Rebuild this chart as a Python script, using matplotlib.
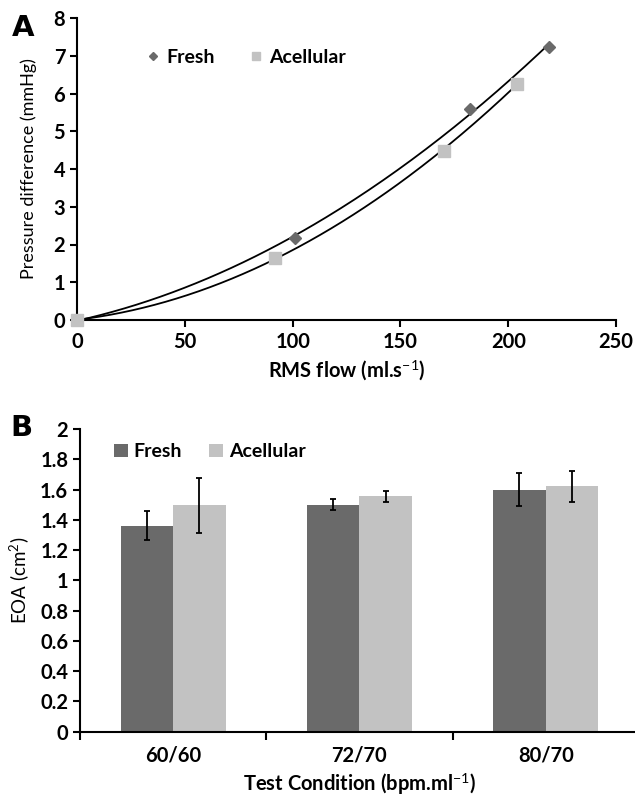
import numpy as np
import matplotlib.pyplot as plt

plt.rcParams['font.family'] = ['Lato', 'DejaVu Sans']
plt.rcParams['mathtext.fontset'] = 'custom'
plt.rcParams['mathtext.rm'] = 'Lato'
plt.rcParams['mathtext.bf'] = 'Lato:bold'

# panel A: pressure difference vs RMS flow
fresh_flow = np.array([0, 101, 182, 219])
fresh_dp = np.array([0, 2.16, 5.58, 7.24])
acell_flow = np.array([0, 92, 170, 204])
acell_dp = np.array([0, 1.64, 4.49, 6.26])

# panel B: EOA per test condition
conditions = ["60/60", "72/70", "80/70"]
fresh_eoa = np.array([1.36, 1.50, 1.60])
fresh_err = np.array([0.096, 0.037, 0.11])
acell_eoa = np.array([1.495, 1.555, 1.62])
acell_err = np.array([0.18, 0.036, 0.10])

dark = "#6a6a6a"
light = "#c2c2c2"

fig = plt.figure(figsize=(6.35, 8), dpi=100)

# ---- A ----
ax1 = fig.add_axes([0.1213, 0.6, 0.849, 0.3775])
for x, y in [(fresh_flow, fresh_dp), (acell_flow, acell_dp)]:
    c = np.polyfit(x, y, 2)
    xs = np.linspace(0, x.max(), 200)
    ax1.plot(xs, np.polyval(c, xs), color="black", lw=1.3, zorder=2)
ax1.plot(fresh_flow, fresh_dp, "D", color=dark, ms=6, label="Fresh",
         clip_on=False, zorder=3)
ax1.plot(acell_flow, acell_dp, "s", color=light, ms=8, label="Acellular",
         clip_on=False, zorder=3)
ax1.set_xlim(0, 250)
ax1.set_ylim(0, 8)
ax1.set_xticks(np.arange(0, 251, 50))
ax1.set_yticks(np.arange(0, 9, 1))
ax1.set_xlabel("RMS flow (ml.s$^{-1}$)", fontsize=14.5, fontweight="bold",
               labelpad=5)
ax1.set_ylabel("Pressure difference (mmHg)", fontsize=13, labelpad=12)
ax1.legend(loc="center left", bbox_to_anchor=(0.09, 0.87), ncol=2,
           frameon=False, prop={"weight": "bold", "size": 14},
           handletextpad=0.2, columnspacing=1.6, handlelength=1,
           markerscale=0.75)
fig.text(0.018, 0.955, "A", fontsize=21, fontweight="bold", family="DejaVu Sans")

# ---- B ----
ax2 = fig.add_axes([0.126, 0.0854, 0.88, 0.3784])
idx = np.arange(len(conditions))
w = 0.282
ax2.bar(idx - w / 2, fresh_eoa, w, color=dark, label="Fresh", zorder=2)
ax2.bar(idx + w / 2, acell_eoa, w, color=light, label="Acellular", zorder=2)
ax2.errorbar(idx - w / 2, fresh_eoa, yerr=fresh_err, fmt="none", ecolor="black",
             elinewidth=1.3, capsize=2.5, capthick=1.3, zorder=3)
ax2.errorbar(idx + w / 2, acell_eoa, yerr=acell_err, fmt="none", ecolor="black",
             elinewidth=1.3, capsize=2.5, capthick=1.3, zorder=3)
ax2.set_xlim(-0.5, 2.5)
ax2.set_ylim(0, 2)
ax2.set_yticks(np.arange(0, 2.01, 0.2))
ax2.set_yticklabels(["0", "0.2", "0.4", "0.6", "0.8", "1", "1.2", "1.4", "1.6",
                     "1.8", "2"])
ax2.set_xticks(idx)
ax2.set_xticklabels(conditions)
ax2.set_xticks([-0.5, 0.5, 1.5, 2.5], minor=True)
ax2.set_xlabel("Test Condition (bpm.ml$^{-1}$)", fontsize=14.5,
               fontweight="bold", labelpad=4)
ax2.set_ylabel("EOA (cm$^{2}$)", fontsize=13.5, labelpad=6)
ax2.legend(loc="center left", bbox_to_anchor=(0.03, 0.925), ncol=2,
           frameon=False, prop={"weight": "bold", "size": 14},
           handletextpad=0.3, columnspacing=1.4, handlelength=0.7,
           handleheight=0.7)
fig.text(0.016, 0.455, "B", fontsize=21, fontweight="bold", family="DejaVu Sans")

for ax in (ax1, ax2):
    for s in ("top", "right"):
        ax.spines[s].set_visible(False)
    for s in ("left", "bottom"):
        ax.spines[s].set_linewidth(1.5)
    ax.tick_params(which="major", width=1.5, length=5, labelsize=14.5)
    for lab in ax.get_xticklabels() + ax.get_yticklabels():
        lab.set_fontweight("bold")

ax2.tick_params(axis="x", which="major", length=0, pad=10)
ax2.tick_params(axis="x", which="minor", length=6, width=1.5)

fig.savefig("out.png", dpi=100)
